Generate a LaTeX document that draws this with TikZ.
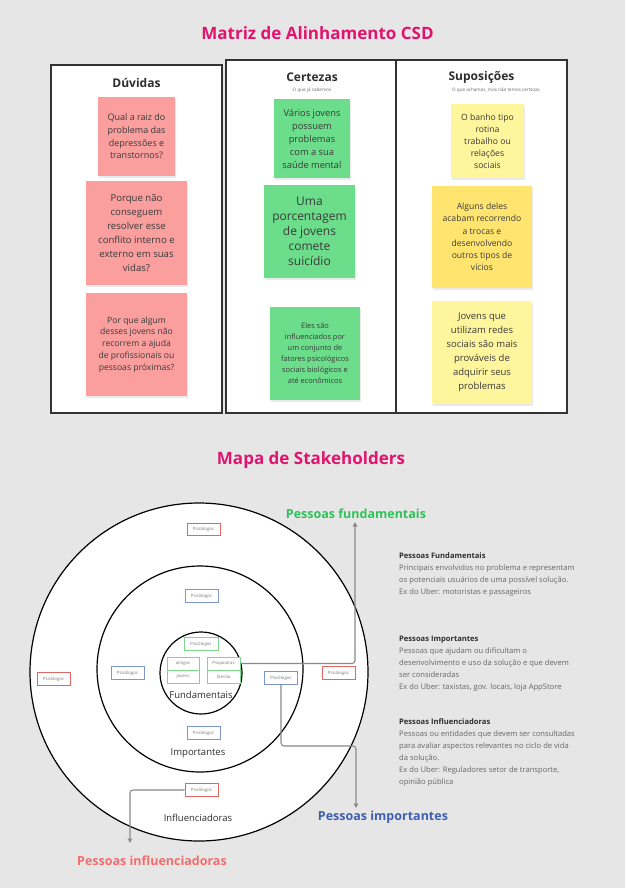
\documentclass[tikz,border=0pt]{standalone}
\usepackage{fontspec}
\setmainfont{Open Sans}
\usetikzlibrary{arrows.meta,shadows}

\definecolor{bg}{HTML}{E6E6E6}
\definecolor{titlepink}{HTML}{E0146E}
\definecolor{frame}{HTML}{333333}
\definecolor{stickytext}{HTML}{3A3A3A}
\definecolor{redsticky}{HTML}{FA9E9E}
\definecolor{greensticky}{HTML}{6BDD8B}
\definecolor{paleyellow}{HTML}{FFF59D}
\definecolor{deepyellow}{HTML}{FFE570}
\definecolor{tagred}{HTML}{E06666}
\definecolor{tagblue}{HTML}{7B96D0}
\definecolor{taggreen}{HTML}{7DD88E}
\definecolor{tagtext}{HTML}{777777}
\definecolor{connector}{HTML}{8A8A8A}
\definecolor{labgreen}{HTML}{2FC25B}
\definecolor{labblue}{HTML}{3D5FB3}
\definecolor{labred}{HTML}{F46C6C}
\definecolor{bodygray}{HTML}{666666}
\definecolor{headdark}{HTML}{2E2E2E}

\tikzset{
  sectiontitle/.style={font=\fontsize{17}{20}\selectfont\bfseries, text=titlepink, inner sep=0},
  column/.style={draw=frame, line width=1.4pt, fill=white},
  colhead/.style={font=\fontsize{12}{14}\selectfont\bfseries, text=headdark, inner sep=0},
  colsub/.style={font=\fontsize{4.6}{5}\selectfont, text=bodygray, inner sep=0},
  sticky/.style 2 args={rectangle, inner sep=0, align=center, text=stickytext,
    minimum width=#1pt, minimum height=#2pt,
    drop shadow={shadow xshift=0.6pt, shadow yshift=-1.8pt, opacity=0.16}},
  ring/.style={circle, draw=black, line width=1.2pt, fill=white, inner sep=0},
  tag/.style={rectangle, draw=#1, line width=0.8pt, fill=white, inner sep=0,
    minimum width=33pt, minimum height=12.5pt,
    font=\fontsize{4.3}{5}\selectfont, text=tagtext},
  ringlabel/.style={font=\fontsize{9.5}{11}\selectfont, text=headdark, inner sep=0},
  conn/.style={draw=connector, line width=1.1pt, rounded corners=3pt,
    -{Triangle[length=4.5pt,width=4.5pt]}},
  grouplabel/.style={font=\fontsize{12.5}{15}\selectfont\bfseries, text=#1, inner sep=0},
  note/.style={align=left, inner sep=0, text=bodygray,
    font=\fontsize{7.6}{12}\selectfont},
}

\begin{document}
\begin{tikzpicture}[x=1pt,y=-1pt]
\useasboundingbox[fill=bg] (0,0) rectangle (625,888);

% ---------- Matriz CSD ----------
\node[sectiontitle] (csdtitle) at (317.5,33) {Matriz de Alinhamento CSD};

\draw[column] (51,65) rectangle (222,413);
\draw[column] (226,60) rectangle (396,413);
\draw[column] (396,60) rectangle (567,413);

\node[colhead] (hduv) at (136.5,83) {Dúvidas};
\node[colhead] (hcer) at (312,77) {Certezas};
\node[colhead] (hsup) at (481.5,77) {Suposições};
\node[colsub] (scer) at (312,90) {O que já sabemos};
\node[colsub] (ssup) at (496,90) {O que achamos, mas não temos certezas};

% Dúvidas
\node[sticky={77}{79}, fill=redsticky, font=\fontsize{9}{12.6}\selectfont] (d1) at (136.5,136.5)
  {Qual a raiz do\\problema das\\depressões e\\transtornos?};
\node[sticky={101}{104}, fill=redsticky, font=\fontsize{9.6}{14}\selectfont] (d2) at (136.5,233)
  {Porque não\\conseguem\\resolver esse\\conflito interno e\\externo em suas\\vidas?};
\node[sticky={101}{103}, fill=redsticky, font=\fontsize{8.6}{11.8}\selectfont] (d3) at (136.5,344.5)
  {Por que algum\\desses jovens não\\recorrem a ajuda\\de profissionais ou\\pessoas próximas?};

% Certezas
\node[sticky={76}{79}, fill=greensticky, font=\fontsize{9.3}{13}\selectfont] (c1) at (312,138.5)
  {Vários jovens\\possuem\\problemas\\com a sua\\saúde mental};
\node[sticky={91}{93}, fill=greensticky, font=\fontsize{12}{15}\selectfont] (c2) at (309.5,231.5)
  {Uma\\porcentagem\\de jovens\\comete\\suicídio};
\node[sticky={90}{93}, fill=greensticky, font=\fontsize{7.4}{11}\selectfont] (c3) at (315,353.5)
  {Eles são\\influenciados por\\um conjunto de\\fatores psicológicos\\sociais biológicos e\\até econômicos};

% Suposições
\node[sticky={73}{74}, fill=paleyellow, font=\fontsize{8.6}{12}\selectfont] (s1) at (487.5,141)
  {O banho tipo\\rotina\\trabalho ou\\relações\\sociais};
\node[sticky={100}{102}, fill=deepyellow, font=\fontsize{8.6}{12.2}\selectfont] (s2) at (482,237)
  {Alguns deles\\acabam recorrendo\\a trocas e\\desenvolvendo\\outros tipos de\\vícios};
\node[sticky={100}{103}, fill=paleyellow, font=\fontsize{9.5}{14}\selectfont] (s3) at (482,352.5)
  {Jovens que\\utilizam redes\\sociais são mais\\prováveis de\\adquirir seus\\problemas};

% ---------- Mapa de Stakeholders ----------
\node[sectiontitle] (maptitle) at (311,460) {Mapa de Stakeholders};

\node[ring, minimum size=338pt] (outer) at (199,672) {};
\node[ring, minimum size=206pt] (middle) at (200,669) {};
\node[ring, minimum size=82pt] (inner) at (201,673) {};

% fundamentais
\node[tag=taggreen, minimum width=34pt] (gpsi) at (201,644) {Psicólogos};
\node[tag=taggreen, minimum width=32pt, minimum height=13pt] (amigos) at (183,663.5) {amigos};
\node[tag=taggreen, minimum width=33pt, minimum height=13pt] (psiq) at (223.5,663.5) {Psiquiatras};
\node[tag=taggreen, minimum width=32pt, minimum height=13pt] (jovens) at (183,676.5) {jovens};
\node[tag=taggreen, minimum width=33pt, minimum height=13pt] (familia) at (223.5,676.5) {família};
\node[ringlabel] (lfund) at (201,695) {Fundamentais};

% importantes
\node[tag=tagblue] (bT) at (201.5,596) {Psicólogos};
\node[tag=tagblue] (bL) at (127.5,673) {Psicólogos};
\node[tag=tagblue] (bR) at (281,678) {Psicólogos};
\node[tag=tagblue] (bB) at (203.5,733) {Psicólogos};
\node[ringlabel] (limp) at (198,753) {Importantes};

% influenciadoras
\node[tag=tagred] (rT) at (203.5,529.5) {Psicólogos};
\node[tag=tagred] (rL) at (53.5,679) {Psicólogos};
\node[tag=tagred] (rR) at (338.5,673) {Psicólogos};
\node[tag=tagred, minimum height=13pt] (rB) at (201.5,790) {Psicólogos};
\node[ringlabel] (linf) at (198,818) {Influenciadoras};

% connectors to the group labels
\coordinate (fundTip) at (355,522);
\coordinate (impTurn) at (356,746);
\coordinate (impTip) at (356,808);
\coordinate (infTip) at (130,843);

\draw[conn] (psiq.east) -| (fundTip);
\draw[conn] (bR.south) |- (impTurn) -- (impTip);
\draw[conn] (rB.west) -| (infTip);

\node[grouplabel=labgreen] (gfund) at (356,514) {Pessoas fundamentais};
\node[grouplabel=labblue] (gimp) at (383,817) {Pessoas importantes};
\node[grouplabel=labred] (ginf) at (152,861) {Pessoas influenciadoras};

% descriptions
\node[note, anchor=north west] (nfund) at (399,552.5)
  {\textcolor{headdark}{\bfseries Pessoas Fundamentais}\\
   Principais envolvidos no problema e representam\\
   os potenciais usuários de uma possível solução.\\
   Ex do Uber: motoristas e passageiros};
\node[note, anchor=north west] (nimp) at (399,635.5)
  {\textcolor{headdark}{\bfseries Pessoas Importantes}\\
   Pessoas que ajudam ou dificultam o\\
   desenvolvimento e uso da solução e que devem\\
   ser consideradas\\
   Ex do Uber: taxistas, gov. locais, loja AppStore};
\node[note, anchor=north west] (ninf) at (399,718.5)
  {\textcolor{headdark}{\bfseries Pessoas Influenciadoras}\\
   Pessoas ou entidades que devem ser consultadas\\
   para avaliar aspectos relevantes no ciclo de vida\\
   da solução.\\
   Ex do Uber: Reguladores setor de transporte,\\
   opinião pública};
\end{tikzpicture}
\end{document}
